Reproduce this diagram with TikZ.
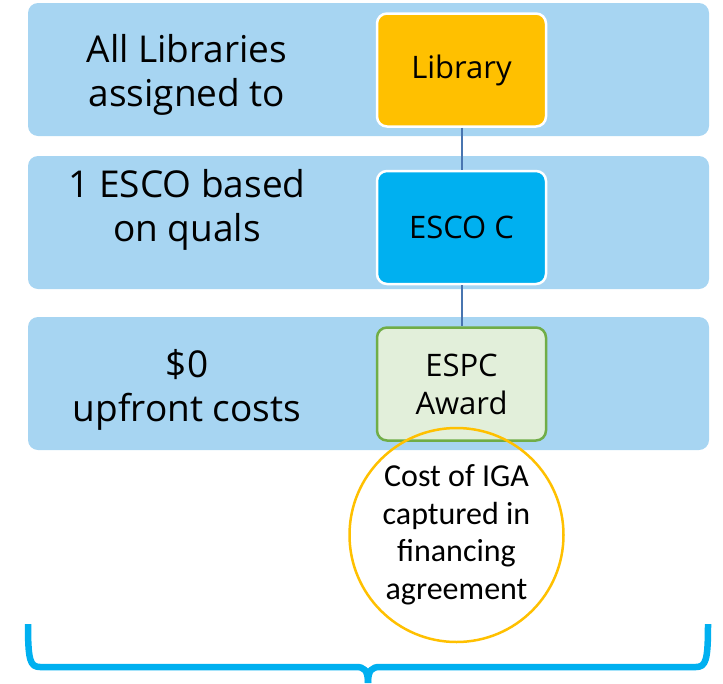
\documentclass[tikz,border=0pt]{standalone}
\usepackage{fontspec}
\setmainfont{Open Sans}
\newfontfamily\calib{Carlito}
\definecolor{bandblue}{RGB}{167,213,242}
\definecolor{libgold}{RGB}{255,192,0}
\definecolor{escoblue}{RGB}{0,176,240}
\definecolor{awardfill}{RGB}{226,239,218}
\definecolor{awardline}{RGB}{112,173,71}
\definecolor{linkblue}{RGB}{72,117,176}
\definecolor{bracecol}{RGB}{0,176,240}
\tikzset{
  band/.style={fill=bandblue, draw=none, rounded corners=10pt, minimum width=681pt, minimum height=133pt, inner sep=0pt},
  lefttxt/.style={align=center, inner sep=0pt, font=\fontsize{37}{44}\selectfont},
  boxbase/.style={rounded corners=10pt, minimum width=169pt, minimum height=113pt, inner sep=0pt, align=center, font=\fontsize{31}{38}\selectfont},
  libbox/.style={boxbase, fill=libgold, draw=white, line width=2.5pt},
  escobox/.style={boxbase, fill=escoblue, draw=white, line width=2.5pt},
  awardbox/.style={boxbase, fill=awardfill, draw=awardline, line width=2.5pt},
  link/.style={draw=linkblue, line width=2pt},
  ring/.style={circle, draw=libgold, line width=2.5pt, minimum size=214pt, inner sep=0pt, align=center, font=\calib\fontsize{32}{37.5}\selectfont},
  bracepath/.style={draw=bracecol, line width=6.5pt, line join=round}
}
\begin{document}
\begin{tikzpicture}[x=1pt,y=-1pt]
\useasboundingbox (0,0) rectangle (723,683);
% bands
\node[band] (b1) at (368.5,69.5) {};
\node[band] (b2) at (368.5,222.5) {};
\node[band] (b3) at (368.5,383.5) {};
% left texts
\node[lefttxt] (t1) at (187,75) {All Libraries\\assigned to};
\node[lefttxt] (t2) at (187,210) {1 ESCO based\\on quals};
\node[lefttxt] (t3) at (187,390) {\$0\\upfront costs};
% boxes
\node[libbox] (lib) at (461.5,70) {Library};
\node[escobox] (esco) at (461.5,227.5) {ESCO C};
\node[awardbox] (award) at (461.5,384) {ESPC\\Award};
% links
\draw[link] (lib.south) -- (esco.north);
\draw[link] (esco.south) -- (award.north);
% circle
\node[ring] (iga) at (456.5,535) {Cost of IGA\\captured in\\financing\\agreement};
% brace
\coordinate (bl) at (28,624);
\coordinate (br) at (708,624);
\coordinate (bt) at (368,683);
\draw[bracepath] (bl) .. controls (28,660) and (30,667) .. (40,667) -- (356,667)
  .. controls (364,667) and (368,670) .. (bt);
\draw[bracepath] (br) .. controls (708,660) and (706,667) .. (696,667) -- (380,667)
  .. controls (372,667) and (368,670) .. (bt);
\end{tikzpicture}
\end{document}
